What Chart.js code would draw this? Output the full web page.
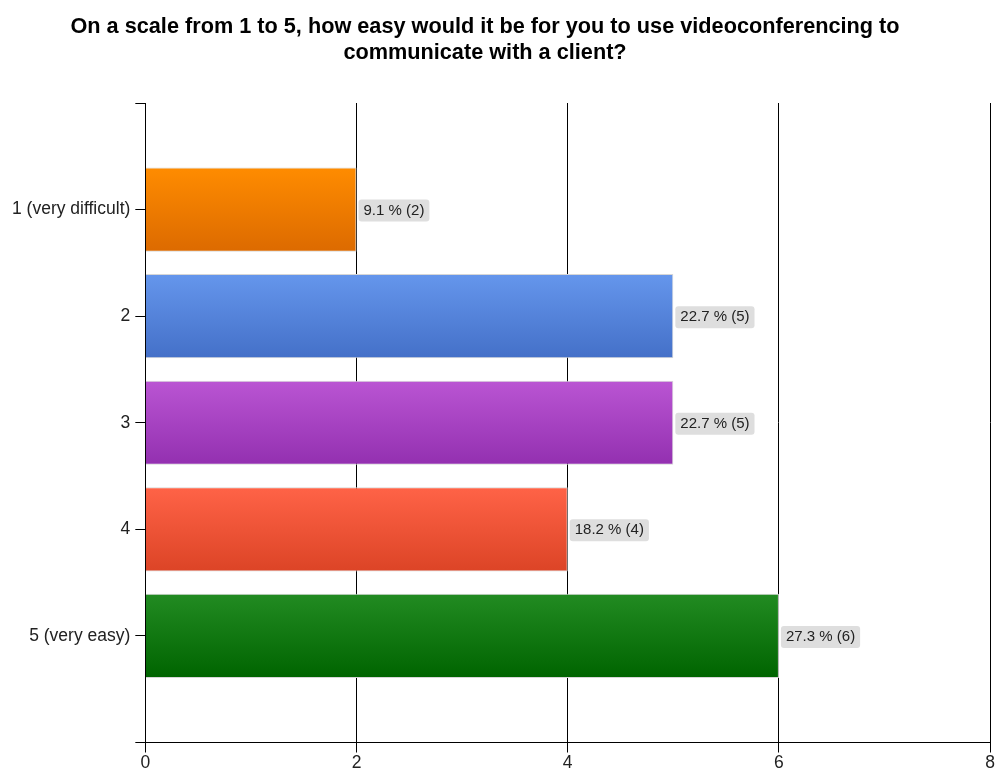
<!DOCTYPE html>
<html lang="en">
<head>
  <meta charset="UTF-8">
  <title>Videoconferencing ease</title>
  <style>
    html, body { margin: 0; padding: 0; background: #fff; overflow: hidden; }
    #wrap { width: 997px; height: 770px; overflow: hidden; }
  </style>
</head>
<body>
  <div id="wrap"><canvas id="barChart" width="997" height="774"></canvas></div>

  <script src="https://cdn.jsdelivr.net/npm/chart.js"></script>
  <script>
    // data
    const titleLines = ['On a scale from 1 to 5, how easy would it be for you to use videoconferencing to',
                        'communicate with a client?'];
    const categories = ['', '1 (very difficult)', '2', '3', '4', '5 (very easy)', ''];
    const counts     = [null, 2, 5, 5, 4, 6, null];
    const xTicks     = [0, 2, 4, 6, 8];
    // gradient top / bottom per bar
    const topColors    = [null, '#ff8c00', '#6596ec', '#ba55d3', '#ff6347', '#228b22', null];
    const bottomColors = [null, '#dc6a00', '#4470c8', '#9330b0', '#dc4426', '#006400', null];

    const total = counts.reduce((a, b) => a + (b || 0), 0);
    const FONT = '"Liberation Sans", Arial, sans-serif';

    function barFill(ctx) {
      const chart = ctx.chart, i = ctx.dataIndex;
      const ys = chart.scales && chart.scales.y;
      if (!ys || !topColors[i]) return topColors[i] || '#888';
      const c = ys.getPixelForValue(i);
      const half = Math.abs(ys.getPixelForValue(1) - ys.getPixelForValue(0)) * 0.79 / 2;
      const g = chart.ctx.createLinearGradient(0, c - half, 0, c + half);
      g.addColorStop(0, topColors[i]);
      g.addColorStop(1, bottomColors[i]);
      return g;
    }

    // title drawn a bit left of centre, as in the original
    const titlePlugin = {
      id: 'titleText',
      afterDraw(chart) {
        const c = chart.ctx;
        c.save();
        c.font = 'bold 21.7px ' + FONT;
        c.fillStyle = '#000';
        c.textAlign = 'center';
        c.textBaseline = 'middle';
        titleLines.forEach((t, k) => c.fillText(t, 485, 27 + k * 26));
        c.restore();
      }
    };

    // "9.1 % (2)" boxes at the end of each bar
    const valueLabels = {
      id: 'valueLabels',
      afterDatasetsDraw(chart) {
        const c = chart.ctx;
        const meta = chart.getDatasetMeta(0);
        c.save();
        c.font = '15px ' + FONT;
        c.textBaseline = 'middle';
        meta.data.forEach((el, i) => {
          if (counts[i] == null) return;
          const txt = (counts[i] / total * 100).toFixed(1) + ' % (' + counts[i] + ')';
          const w = c.measureText(txt).width;
          const x = el.x + 2, y = el.y + 1;
          c.fillStyle = '#dedede';
          c.beginPath();
          c.roundRect(x, y - 11, w + 10, 22, 3);
          c.fill();
          c.fillStyle = '#222';
          c.fillText(txt, x + 5, y);
        });
        c.restore();
      }
    };

    new Chart(document.getElementById('barChart'), {
      type: 'bar',
      data: {
        labels: categories,
        datasets: [{
          data: counts,
          backgroundColor: barFill,
          borderColor: '#d6d6d6',
          borderWidth: 1,
          borderSkipped: 'start',
          barPercentage: 0.79,
          categoryPercentage: 1
        }]
      },
      options: {
        indexAxis: 'y',
        responsive: false,
        animation: false,
        layout: { padding: { top: 103, right: 4, left: 7, bottom: 0 } },
        plugins: {
          legend: { display: false },
          tooltip: { enabled: false },
          title: { display: false }
        },
        scales: {
          x: {
            min: 0, max: 8,
            afterBuildTicks: s => { s.ticks = xTicks.map(v => ({ value: v })); },
            grid: { color: '#000', lineWidth: 1, tickLength: 10 },
            border: { color: '#000', width: 1 },
            ticks: { color: '#222', font: { size: 17.5, family: FONT, lineHeight: 1 }, padding: 2 }
          },
          y: {
            type: 'category',
            offset: false,
            grid: { offset: false, drawOnChartArea: false, color: '#000', tickLength: 10 },
            border: { color: '#000', width: 1 },
            ticks: { color: '#222', font: { size: 17.5, family: FONT }, padding: 5 }
          }
        }
      },
      plugins: [titlePlugin, valueLabels]
    });
  </script>
</body>
</html>
